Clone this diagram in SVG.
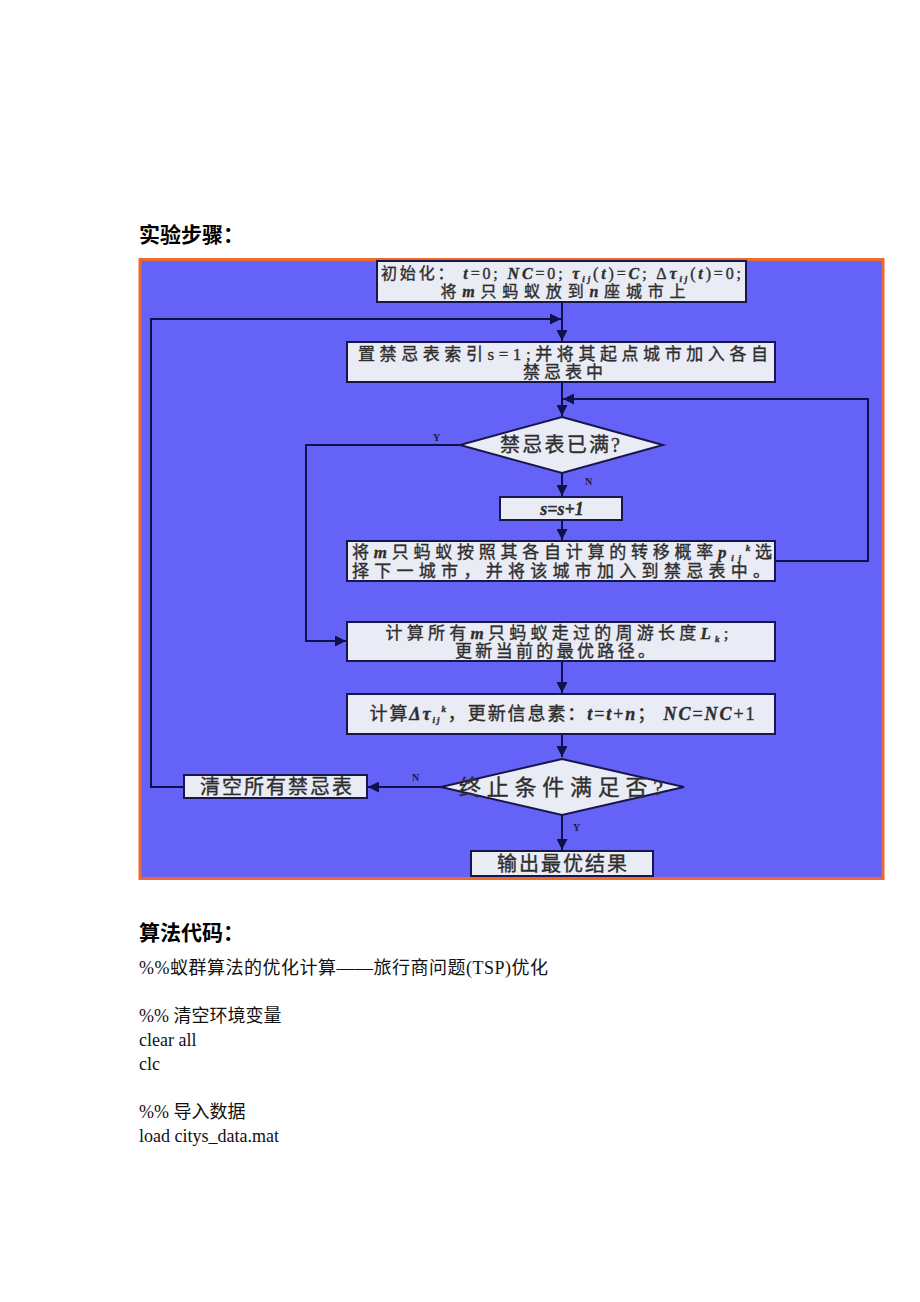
<svg xmlns="http://www.w3.org/2000/svg" width="920" height="1302" viewBox="0 0 920 1302">
<defs>
<style>
.box{fill:#e9ebf5;stroke:#16164a;stroke-width:2}
.t{font-family:"Liberation Serif","Noto Sans CJK SC",serif;font-size:17px;fill:#2e2e2e;text-anchor:middle;stroke:#2e2e2e;stroke-width:0.35}
.s{font-size:20px}
.i{font-style:italic;font-weight:bold}
.sub{font-size:9px}
.lbl{font-family:"Liberation Serif",serif;font-size:10px;font-weight:bold;fill:#1a1a40}
.c{fill:none;stroke:#10104a;stroke-width:2}
.h{font-family:"Liberation Serif","Noto Sans CJK SC",sans-serif;font-size:21px;font-weight:bold;fill:#000}
.b{font-family:"Liberation Serif","Noto Sans CJK SC",serif;font-size:18px;fill:#111}
</style>
<marker id="ah" viewBox="0 0 10 10" refX="10" refY="5" markerWidth="5.5" markerHeight="5.5" orient="auto" markerUnits="strokeWidth">
<path d="M0,0 L10,5 L0,10 z" fill="#10104a"/>
</marker>
</defs>
<rect x="0" y="0" width="920" height="1302" fill="#ffffff"/>
<text class="h" x="139" y="242">实验步骤：</text>
<rect x="140" y="259.5" width="743" height="619" fill="#6563f7" stroke="#ec6b2c" stroke-width="3"/>

<g id="connectors">
<path class="c" d="M562,302 V341" marker-end="url(#ah)"/>
<path class="c" d="M184,787 H151 V319 H561" marker-end="url(#ah)"/>
<path class="c" d="M562,382 V416" marker-end="url(#ah)"/>
<path class="c" d="M775,561 H868 V399 H563" marker-end="url(#ah)"/>
<path class="c" d="M460,445 H306 V641 H346" marker-end="url(#ah)"/>
<path class="c" d="M562,473 V496" marker-end="url(#ah)"/>
<path class="c" d="M562,520 V540" marker-end="url(#ah)"/>
<path class="c" d="M562,661 V693" marker-end="url(#ah)"/>
<path class="c" d="M562,734 V757" marker-end="url(#ah)"/>
<path class="c" d="M441,787 H368" marker-end="url(#ah)"/>
<path class="c" d="M562,815 V850" marker-end="url(#ah)"/>
<text class="lbl" x="433" y="441">Y</text>
<text class="lbl" x="585" y="485">N</text>
<text class="lbl" x="412" y="781">N</text>
<text class="lbl" x="573" y="831">Y</text>
</g>

<g id="init">
<rect class="box" x="377" y="261" width="369" height="41"/>
<text class="t" x="561" y="279" style="font-size:16px" textLength="360" lengthAdjust="spacing">初始化： <tspan class="i">t</tspan>=0; <tspan class="i">NC</tspan>=0; <tspan class="i">τ</tspan><tspan class="i sub" dy="3">ij</tspan><tspan dy="-3">(</tspan><tspan class="i">t</tspan>)=<tspan class="i">C</tspan>; Δ<tspan class="i">τ</tspan><tspan class="i sub" dy="3">ij</tspan><tspan dy="-3">(</tspan><tspan class="i">t</tspan>)=0;</text>
<text class="t" x="563" y="297" style="font-size:16px" textLength="245" lengthAdjust="spacing">将<tspan class="i">m</tspan>只蚂蚁放到<tspan class="i">n</tspan>座城市上</text>
</g>

<g id="settabu">
<rect class="box" x="347" y="342" width="428" height="40"/>
<text class="t" x="563" y="360" textLength="410" lengthAdjust="spacing">置禁忌表索引s=1;并将其起点城市加入各自</text>
<text class="t" x="563" y="378" textLength="80" lengthAdjust="spacing">禁忌表中</text>
</g>

<g id="full">
<polygon class="box" points="562,417 663,445 562,473 460,445"/>
<text class="t s" x="560" y="452" textLength="120" lengthAdjust="spacing">禁忌表已满?</text>
</g>

<g id="inc">
<rect class="box" x="500" y="497" width="122" height="23"/>
<text class="t i" x="562" y="515" style="font-size:18px">s=s+1</text>
</g>

<g id="move">
<rect class="box" x="347" y="541" width="428" height="40"/>
<text class="t" x="562" y="558" textLength="420" lengthAdjust="spacing">将<tspan class="i">m</tspan>只蚂蚁按照其各自计算的转移概率<tspan class="i">p</tspan><tspan class="i sub" dy="3">ij</tspan><tspan class="i sub" dy="-10">k</tspan><tspan dy="7">选</tspan></text>
<text class="t" x="561" y="577" textLength="418" lengthAdjust="spacing">择下一城市，并将该城市加入到禁忌表中。</text>
</g>

<g id="length">
<rect class="box" x="347" y="622" width="428" height="39"/>
<text class="t" x="557" y="639" textLength="343" lengthAdjust="spacing">计算所有<tspan class="i">m</tspan>只蚂蚁走过的周游长度<tspan class="i">L</tspan><tspan class="i sub" dy="3">k</tspan><tspan dy="-3">;</tspan></text>
<text class="t" x="555" y="657" textLength="200" lengthAdjust="spacing">更新当前的最优路径。</text>
</g>

<g id="update">
<rect class="box" x="347" y="694" width="428" height="40"/>
<text class="t" x="562" y="720" style="font-size:18px" textLength="385" lengthAdjust="spacing">计算<tspan class="i">Δτ</tspan><tspan class="i sub" dy="3">ij</tspan><tspan class="i sub" dy="-11">k</tspan><tspan dy="8">，更新信息素：</tspan><tspan class="i">t</tspan>=<tspan class="i">t</tspan>+<tspan class="i">n</tspan>； <tspan class="i">NC</tspan>=<tspan class="i">NC</tspan>+1</text>
</g>

<g id="stop">
<polygon class="box" points="562,759 684,787 562,815 441,787"/>
<text class="t" x="561" y="795" style="font-size:22px" textLength="204" lengthAdjust="spacing">终止条件满足否?</text>
</g>

<g id="clear">
<rect class="box" x="184" y="775" width="183" height="23"/>
<text class="t s" x="276" y="794" textLength="152" lengthAdjust="spacing">清空所有禁忌表</text>
</g>

<g id="output">
<rect class="box" x="471" y="851" width="182" height="25"/>
<text class="t s" x="562" y="871" textLength="130" lengthAdjust="spacing">输出最优结果</text>
</g>

<text class="h" x="139" y="940">算法代码：</text>
<text class="b" x="139" y="974" textLength="409" lengthAdjust="spacing">%%蚁群算法的优化计算——旅行商问题(TSP)优化</text>
<text class="b" x="139" y="1022">%%  清空环境变量</text>
<text class="b" x="139" y="1046">clear all</text>
<text class="b" x="139" y="1070">clc</text>
<text class="b" x="139" y="1118">%%  导入数据</text>
<text class="b" x="139" y="1142">load citys_data.mat</text>
</svg>
